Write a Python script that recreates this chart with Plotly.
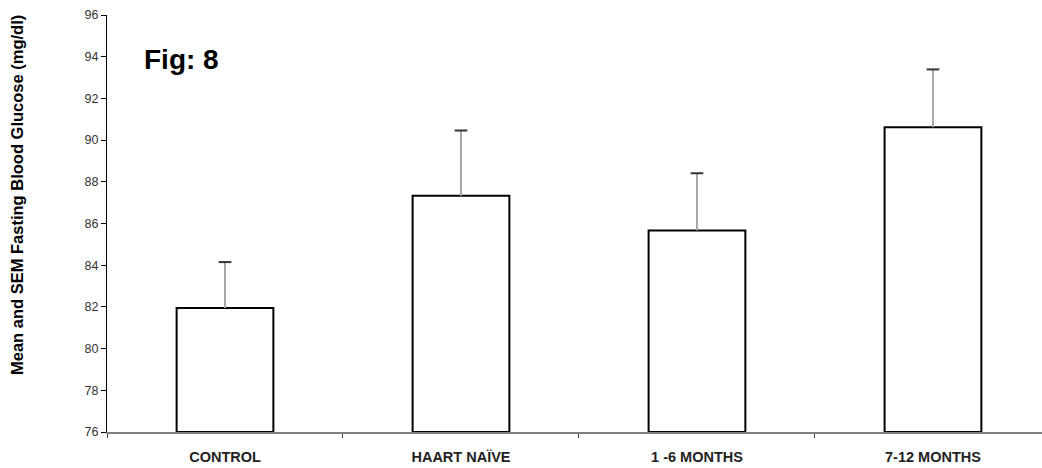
import plotly.graph_objects as go

categories = ["CONTROL", "HAART NAÏVE", "1 -6 MONTHS", "7-12 MONTHS"]
means = [81.95, 87.33, 85.67, 90.62]
sems = [2.2, 3.13, 2.74, 2.77]
y_ticks = [76, 78, 80, 82, 84, 86, 88, 90, 92, 94, 96]

fig = go.Figure()
fig.add_trace(go.Bar(
    x=categories, y=[m - 76 for m in means], base=76,
    width=0.41,
    marker=dict(color="white", line=dict(color="black", width=2)),
    showlegend=False, hoverinfo="skip",
))

# error stems (upper only)
sx, sy = [], []
for c, m, s in zip(categories, means, sems):
    sx += [c, c, None]
    sy += [m, m + s, None]
fig.add_trace(go.Scatter(x=sx, y=sy, mode="lines",
                         line=dict(color="#a8a8a8", width=2),
                         showlegend=False, hoverinfo="skip"))
fig.add_trace(go.Scatter(x=categories, y=[m + s for m, s in zip(means, sems)],
                         mode="markers",
                         marker=dict(symbol="line-ew-open", size=9, color="#333333",
                                     line=dict(color="#333333", width=2)),
                         showlegend=False, hoverinfo="skip"))

fig.update_layout(
    width=1042, height=468,
    margin=dict(l=107, r=0, t=15, b=36),
    paper_bgcolor="white", plot_bgcolor="white",
    font=dict(family="Arial, Liberation Sans", color="black"),
    xaxis=dict(
        type="category", range=[-0.5, 3.462],
        categoryorder="array", categoryarray=categories,
        tickvals=categories, ticktext=["<b>%s</b>" % c for c in categories],
        showline=True, linecolor="#808080", linewidth=1.5,
        ticks="outside", tickson="boundaries", ticklen=4, tickcolor="#404040",
        tickfont=dict(size=14.5, color="#222222"),
        ticklabelstandoff=11,
        showgrid=False, zeroline=False, fixedrange=True,
    ),
    yaxis=dict(
        range=[76, 96], tickvals=y_ticks,
        showline=True, linecolor="black", linewidth=1,
        ticks="outside", ticklen=5, tickcolor="black",
        tickfont=dict(size=12.5, color="#333333"),
        showgrid=False, zeroline=False, fixedrange=True,
    ),
    annotations=[
        dict(text="<b>Fig: 8</b>", xref="paper", yref="paper",
             x=(142 - 107) / (1042 - 107), y=(432 - 59) / (432 - 15),
             xanchor="left", yanchor="middle", showarrow=False,
             font=dict(size=28, color="black")),
        dict(text="<b>Mean and SEM Fasting Blood Glucose (mg/dl)</b>",
             xref="paper", yref="paper",
             x=-(107 - 17) / (1042 - 107), y=(432 - 195) / (432 - 15),
             xanchor="center", yanchor="middle", textangle=-90,
             showarrow=False, font=dict(size=16.5, color="black")),
    ],
)

fig.write_html("out.html")
